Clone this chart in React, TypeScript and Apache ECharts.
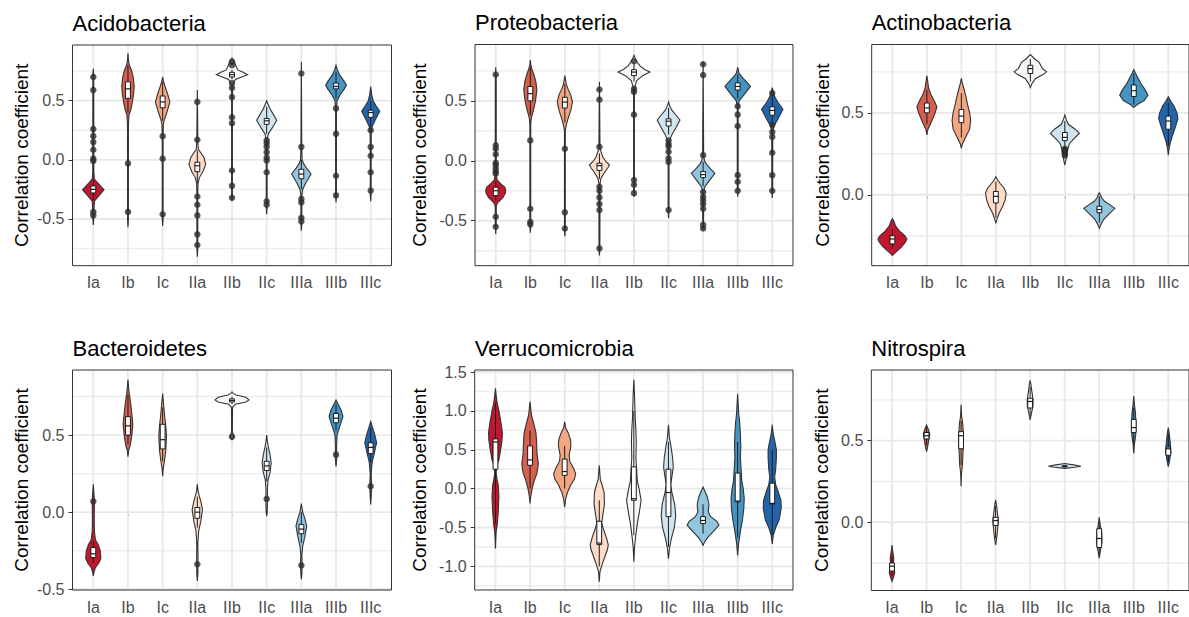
import React, { useEffect, useRef } from "react";
import * as echarts from "echarts";

const FONT = "'Liberation Sans', Arial, Helvetica, sans-serif";

const categories = ["Ia", "Ib", "Ic", "IIa", "IIb", "IIc", "IIIa", "IIIb", "IIIc"];
const palette = ["#C2162E", "#D6604D", "#F4A582", "#FDDBC7", "#F7F7F7", "#D1E5F0", "#92C5DE", "#4393C3", "#2166AC"];
const panelTitles = ["Acidobacteria", "Proteobacteria", "Actinobacteria", "Bacteroidetes", "Verrucomicrobia", "Nitrospira"];
const yTitle = "Correlation coefficient";

// ---------- Acidobacteria ----------
const acidoRange = [-0.895, 0.971];
const acidoMajor = [-0.5, 0, 0.5];
const acidoMinor = [-0.75, -0.25, 0.25, 0.75];
const acidoViolins = [
  [[-0.55, 0], [-0.5, 0.012], [-0.42, 0.02], [-0.35, 0.03], [-0.3, 0.17], [-0.252, 0.31], [-0.2, 0.14], [-0.16, 0.03], [-0.1, 0.015], [0.3, 0.014], [0.72, 0.012], [0.77, 0]],
  [[-0.57, 0], [-0.5, 0.012], [0.3, 0.014], [0.38, 0.03], [0.42, 0.08], [0.48, 0.12], [0.55, 0.16], [0.62, 0.18], [0.7, 0.15], [0.76, 0.1], [0.8, 0.04], [0.84, 0.015], [0.9, 0]],
  [[-0.56, 0], [-0.5, 0.012], [0.2, 0.012], [0.3, 0.02], [0.34, 0.05], [0.4, 0.12], [0.49, 0.21], [0.56, 0.14], [0.62, 0.07], [0.66, 0.03], [0.7, 0]],
  [[-0.82, 0], [-0.75, 0.012], [-0.3, 0.012], [-0.2, 0.02], [-0.15, 0.06], [-0.1, 0.16], [-0.04, 0.24], [0.02, 0.19], [0.06, 0.1], [0.09, 0.03], [0.15, 0.015], [0.59, 0]],
  [[-0.35, 0], [-0.3, 0.012], [0.5, 0.012], [0.6, 0.02], [0.65, 0.04], [0.68, 0.1], [0.7, 0.28], [0.72, 0.45], [0.74, 0.32], [0.76, 0.17], [0.79, 0.12], [0.82, 0.08], [0.84, 0.04], [0.86, 0]],
  [[-0.46, 0], [-0.4, 0.012], [0.1, 0.012], [0.18, 0.02], [0.22, 0.05], [0.27, 0.16], [0.335, 0.29], [0.38, 0.2], [0.43, 0.1], [0.47, 0.04], [0.5, 0]],
  [[-0.6, 0], [-0.55, 0.012], [-0.3, 0.015], [-0.25, 0.04], [-0.2, 0.12], [-0.12, 0.28], [-0.07, 0.15], [-0.03, 0.06], [0.0, 0.025], [0.1, 0.012], [0.83, 0]],
  [[-0.36, 0], [-0.3, 0.012], [0.4, 0.012], [0.5, 0.03], [0.55, 0.12], [0.6, 0.24], [0.633, 0.3], [0.67, 0.22], [0.72, 0.1], [0.76, 0.04], [0.8, 0]],
  [[-0.35, 0], [-0.3, 0.012], [0.22, 0.014], [0.28, 0.04], [0.33, 0.12], [0.41, 0.26], [0.46, 0.15], [0.5, 0.07], [0.55, 0.03], [0.62, 0]],
];
const acidoBoxes = [
  [-0.34, -0.28, -0.25, -0.22, -0.17],
  [0.4, 0.52, 0.6, 0.66, 0.8],
  [0.33, 0.44, 0.49, 0.54, 0.66],
  [-0.2, -0.1, -0.05, -0.02, 0.08],
  [0.68, 0.7, 0.72, 0.74, 0.76],
  [0.22, 0.3, 0.33, 0.35, 0.45],
  [-0.25, -0.16, -0.12, -0.08, 0.0],
  [0.52, 0.6, 0.62, 0.65, 0.74],
  [0.28, 0.36, 0.4, 0.42, 0.5],
];
const acidoOutliers = [
  [0.7, 0.59, 0.26, 0.2, 0.15, 0.085, 0.01, -0.01, -0.44, -0.47],
  [-0.03, -0.44],
  [0.2, 0.01, -0.46],
  [0.49, 0.17, -0.31, -0.38, -0.47, -0.63, -0.72],
  [0.83, 0.8, 0.65, 0.61, 0.53, 0.36, 0.31, -0.09, -0.22, -0.32],
  [0.165, 0.14, 0.11, 0.065, 0.02, -0.005, -0.105, -0.35, -0.38],
  [0.73, 0.11, -0.33, -0.36, -0.49, -0.52],
  [0.435, 0.22, -0.134, -0.3],
  [0.25, 0.11, 0.035, -0.105, -0.26],
];

// ---------- Proteobacteria ----------
const proteoRange = [-0.875, 0.97];
const proteoMajor = [-0.5, 0, 0.5];
const proteoMinor = [-0.75, -0.25, 0.25, 0.75];
const proteoViolins = [
  [[-0.61, 0], [-0.55, 0.012], [-0.38, 0.015], [-0.35, 0.05], [-0.31, 0.2], [-0.27, 0.28], [-0.245, 0.29], [-0.22, 0.26], [-0.19, 0.14], [-0.16, 0.04], [-0.1, 0.015], [0.7, 0.012], [0.78, 0]],
  [[-0.6, 0], [-0.55, 0.012], [0.3, 0.012], [0.36, 0.03], [0.42, 0.09], [0.5, 0.15], [0.59, 0.19], [0.66, 0.16], [0.72, 0.1], [0.77, 0.04], [0.8, 0.015], [0.84, 0]],
  [[-0.63, 0], [-0.58, 0.012], [0.25, 0.012], [0.3, 0.04], [0.36, 0.1], [0.42, 0.17], [0.49, 0.22], [0.55, 0.17], [0.6, 0.09], [0.64, 0.04], [0.71, 0]],
  [[-0.79, 0], [-0.74, 0.012], [-0.2, 0.015], [-0.15, 0.04], [-0.1, 0.14], [-0.06, 0.24], [-0.036, 0.29], [-0.01, 0.2], [0.03, 0.1], [0.08, 0.04], [0.12, 0.015], [0.66, 0]],
  [[-0.3, 0], [-0.26, 0.012], [0.55, 0.012], [0.62, 0.03], [0.67, 0.08], [0.71, 0.25], [0.74, 0.46], [0.76, 0.32], [0.79, 0.18], [0.82, 0.1], [0.85, 0.04], [0.88, 0]],
  [[-0.48, 0], [-0.42, 0.012], [0.1, 0.012], [0.17, 0.03], [0.22, 0.1], [0.28, 0.22], [0.34, 0.33], [0.38, 0.22], [0.42, 0.1], [0.46, 0.03], [0.49, 0]],
  [[-0.58, 0], [-0.53, 0.012], [-0.27, 0.015], [-0.22, 0.04], [-0.17, 0.17], [-0.105, 0.34], [-0.07, 0.22], [-0.03, 0.1], [0.0, 0.04], [0.05, 0.015], [0.825, 0]],
  [[-0.3, 0], [-0.25, 0.012], [0.45, 0.012], [0.5, 0.04], [0.55, 0.18], [0.62, 0.37], [0.66, 0.25], [0.7, 0.12], [0.73, 0.04], [0.78, 0]],
  [[-0.31, 0], [-0.26, 0.012], [0.25, 0.015], [0.29, 0.05], [0.35, 0.17], [0.43, 0.31], [0.48, 0.18], [0.53, 0.08], [0.57, 0.03], [0.61, 0]],
];
const proteoBoxes = [
  [-0.33, -0.29, -0.25, -0.22, -0.17],
  [0.38, 0.5, 0.56, 0.62, 0.78],
  [0.32, 0.44, 0.49, 0.53, 0.64],
  [-0.15, -0.08, -0.04, -0.02, 0.06],
  [0.66, 0.71, 0.74, 0.76, 0.82],
  [0.22, 0.29, 0.33, 0.35, 0.44],
  [-0.21, -0.14, -0.115, -0.09, -0.01],
  [0.52, 0.59, 0.62, 0.65, 0.72],
  [0.3, 0.38, 0.42, 0.45, 0.55],
];
const proteoOutliers = [
  [0.72, 0.13, 0.1, 0.055, -0.017, -0.036, -0.064, -0.09, -0.105, -0.467, -0.55],
  [0.17, -0.4, -0.51, -0.53],
  [0.1, -0.43, -0.565],
  [0.595, 0.51, 0.117, -0.217, -0.25, -0.305, -0.36, -0.41, -0.73],
  [0.83, 0.6, 0.575, 0.385, -0.16, -0.2, -0.27],
  [0.17, 0.14, 0.12, 0.075, 0.02, -0.01, -0.41],
  [0.805, 0.715, 0.047, -0.26, -0.3, -0.33, -0.36, -0.4, -0.535, -0.565],
  [0.455, 0.385, 0.29, -0.12, -0.175, -0.25],
  [0.565, 0.3, 0.24, 0.2, 0.067, -0.12, -0.25],
];

// ---------- Actinobacteria ----------
const actinoRange = [-0.433, 0.917];
const actinoMajor = [0, 0.5];
const actinoMinor = [-0.25, 0.25, 0.75];
const actinoViolins = [
  [[-0.37, 0], [-0.35, 0.1], [-0.32, 0.26], [-0.29, 0.38], [-0.27, 0.42], [-0.25, 0.36], [-0.22, 0.2], [-0.19, 0.09], [-0.16, 0.04], [-0.145, 0]],
  [[0.365, 0], [0.4, 0.03], [0.44, 0.12], [0.5, 0.24], [0.537, 0.29], [0.57, 0.22], [0.61, 0.12], [0.65, 0.05], [0.7, 0.02], [0.725, 0]],
  [[0.283, 0], [0.31, 0.03], [0.35, 0.12], [0.4, 0.24], [0.455, 0.27], [0.5, 0.24], [0.55, 0.18], [0.6, 0.13], [0.65, 0.07], [0.68, 0.03], [0.71, 0]],
  [[-0.175, 0], [-0.15, 0.03], [-0.11, 0.1], [-0.07, 0.2], [-0.03, 0.27], [0.01, 0.3], [0.04, 0.24], [0.07, 0.12], [0.09, 0.05], [0.11, 0]],
  [[0.654, 0], [0.68, 0.05], [0.71, 0.15], [0.735, 0.38], [0.75, 0.47], [0.77, 0.35], [0.79, 0.3], [0.81, 0.25], [0.83, 0.12], [0.856, 0]],
  [[0.18, 0], [0.21, 0.03], [0.25, 0.06], [0.28, 0.09], [0.31, 0.13], [0.34, 0.25], [0.374, 0.42], [0.4, 0.3], [0.43, 0.1], [0.46, 0.04], [0.486, 0]],
  [[-0.205, 0], [-0.18, 0.05], [-0.15, 0.13], [-0.12, 0.27], [-0.083, 0.45], [-0.06, 0.3], [-0.04, 0.15], [-0.02, 0.07], [0.0, 0.03], [0.012, 0]],
  [[0.533, 0], [0.55, 0.1], [0.575, 0.3], [0.608, 0.41], [0.64, 0.33], [0.68, 0.2], [0.72, 0.1], [0.745, 0.04], [0.764, 0]],
  [[0.242, 0], [0.28, 0.02], [0.32, 0.06], [0.36, 0.12], [0.41, 0.2], [0.465, 0.28], [0.5, 0.25], [0.54, 0.17], [0.57, 0.07], [0.598, 0]],
];
const actinoBoxes = [
  [-0.33, -0.3, -0.27, -0.25, -0.21],
  [0.43, 0.5, 0.53, 0.56, 0.64],
  [0.35, 0.44, 0.48, 0.52, 0.62],
  [-0.14, -0.05, -0.01, 0.02, 0.08],
  [0.69, 0.74, 0.77, 0.79, 0.83],
  [0.29, 0.33, 0.35, 0.38, 0.45],
  [-0.17, -0.11, -0.09, -0.07, -0.01],
  [0.55, 0.6, 0.635, 0.67, 0.74],
  [0.3, 0.4, 0.45, 0.48, 0.56],
];
const actinoOutliers = [[], [], [], [], [], [0.28, 0.275, 0.27, 0.265, 0.26, 0.25, 0.24], [], [], []];

// ---------- Bacteroidetes ----------
const bacteRange = [-0.505, 0.922];
const bacteMajor = [-0.5, 0, 0.5];
const bacteMinor = [-0.25, 0.25, 0.75];
const bacteViolins = [
  [[-0.414, 0], [-0.39, 0.02], [-0.36, 0.06], [-0.33, 0.16], [-0.3, 0.22], [-0.25, 0.2], [-0.21, 0.14], [-0.18, 0.06], [-0.12, 0.03], [-0.05, 0.025], [0.05, 0.03], [0.1, 0.025], [0.18, 0]],
  [[0.36, 0], [0.4, 0.02], [0.44, 0.07], [0.5, 0.11], [0.57, 0.14], [0.64, 0.11], [0.7, 0.08], [0.75, 0.05], [0.78, 0.03], [0.86, 0]],
  [[0.233, 0], [0.28, 0.015], [0.33, 0.05], [0.4, 0.09], [0.49, 0.11], [0.56, 0.09], [0.62, 0.06], [0.68, 0.035], [0.72, 0.02], [0.77, 0]],
  [[-0.446, 0], [-0.4, 0.015], [-0.3, 0.02], [-0.2, 0.015], [-0.12, 0.04], [-0.06, 0.1], [0.017, 0.15], [0.07, 0.1], [0.11, 0.05], [0.14, 0.02], [0.18, 0]],
  [[0.47, 0], [0.48, 0.03], [0.49, 0.06], [0.5, 0.03], [0.52, 0.012], [0.68, 0.015], [0.7, 0.1], [0.715, 0.4], [0.728, 0.49], [0.745, 0.4], [0.76, 0.12], [0.77, 0.03], [0.78, 0]],
  [[-0.026, 0], [0.0, 0.015], [0.05, 0.02], [0.1, 0.025], [0.15, 0.02], [0.21, 0.04], [0.26, 0.1], [0.32, 0.13], [0.37, 0.1], [0.42, 0.05], [0.46, 0.02], [0.5, 0]],
  [[-0.435, 0], [-0.4, 0.015], [-0.34, 0.025], [-0.28, 0.015], [-0.22, 0.04], [-0.16, 0.1], [-0.09, 0.155], [-0.04, 0.1], [0.0, 0.04], [0.056, 0]],
  [[0.297, 0], [0.33, 0.015], [0.37, 0.025], [0.42, 0.015], [0.5, 0.03], [0.55, 0.1], [0.62, 0.2], [0.66, 0.15], [0.7, 0.06], [0.728, 0]],
  [[0.05, 0], [0.1, 0.015], [0.17, 0.025], [0.25, 0.015], [0.32, 0.04], [0.38, 0.1], [0.45, 0.17], [0.5, 0.12], [0.55, 0.05], [0.588, 0]],
];
const bacteBoxes = [
  [-0.33, -0.295, -0.27, -0.23, -0.19],
  [0.44, 0.5, 0.56, 0.62, 0.76],
  [0.33, 0.41, 0.47, 0.57, 0.68],
  [-0.1, -0.04, 0.0, 0.03, 0.1],
  [0.7, 0.715, 0.725, 0.735, 0.75],
  [0.2, 0.27, 0.3, 0.33, 0.42],
  [-0.2, -0.14, -0.11, -0.08, 0.0],
  [0.53, 0.58, 0.61, 0.64, 0.7],
  [0.32, 0.38, 0.42, 0.45, 0.55],
];
const bacteOutliers = [[0.07], [], [], [-0.338], [0.49], [0.086], [-0.345], [0.373], [0.168]];

// ---------- Verrucomicrobia ----------
const verruRange = [-1.304, 1.526];
const verruMajor = [-1, -0.5, 0, 0.5, 1, 1.5];
const verruMinor = [-1.25, -0.75, -0.25, 0.25, 0.75, 1.25];
const verruViolins = [
  [[-0.77, 0], [-0.55, 0.02], [-0.47, 0.05], [-0.3, 0.08], [-0.1, 0.1], [0.05, 0.08], [0.11, 0.05], [0.2, 0.02], [0.3, 0.04], [0.37, 0.1], [0.5, 0.15], [0.62, 0.19], [0.72, 0.2], [0.85, 0.16], [1.0, 0.1], [1.1, 0.05], [1.2, 0.02], [1.29, 0]],
  [[-0.19, 0], [-0.1, 0.02], [0.0, 0.06], [0.1, 0.12], [0.2, 0.2], [0.32, 0.24], [0.45, 0.2], [0.6, 0.19], [0.72, 0.17], [0.85, 0.1], [0.95, 0.04], [1.12, 0]],
  [[-0.24, 0], [-0.13, 0.03], [-0.05, 0.08], [0.05, 0.18], [0.12, 0.28], [0.19, 0.32], [0.27, 0.25], [0.35, 0.15], [0.43, 0.13], [0.55, 0.18], [0.63, 0.17], [0.72, 0.1], [0.78, 0.03], [0.86, 0]],
  [[-1.2, 0], [-1.07, 0.02], [-0.98, 0.08], [-0.88, 0.16], [-0.78, 0.24], [-0.72, 0.26], [-0.62, 0.2], [-0.52, 0.12], [-0.44, 0.07], [-0.35, 0.1], [-0.2, 0.15], [-0.05, 0.14], [0.05, 0.08], [0.12, 0.03], [0.3, 0]],
  [[-0.94, 0], [-0.75, 0.02], [-0.62, 0.05], [-0.45, 0.1], [-0.3, 0.16], [-0.15, 0.21], [0.0, 0.15], [0.1, 0.1], [0.25, 0.08], [0.4, 0.06], [0.6, 0.07], [0.75, 0.06], [0.9, 0.04], [1.05, 0.03], [1.2, 0.02], [1.4, 0]],
  [[-0.9, 0], [-0.77, 0.03], [-0.65, 0.08], [-0.5, 0.17], [-0.35, 0.21], [-0.2, 0.18], [-0.05, 0.1], [0.05, 0.06], [0.15, 0.1], [0.28, 0.14], [0.4, 0.12], [0.55, 0.07], [0.65, 0.03], [0.82, 0]],
  [[-0.73, 0], [-0.68, 0.05], [-0.62, 0.15], [-0.55, 0.3], [-0.47, 0.46], [-0.42, 0.4], [-0.36, 0.22], [-0.3, 0.15], [-0.2, 0.17], [-0.1, 0.12], [-0.03, 0.05], [0.02, 0]],
  [[-0.86, 0], [-0.7, 0.03], [-0.55, 0.08], [-0.4, 0.14], [-0.25, 0.18], [-0.12, 0.19], [0.0, 0.16], [0.1, 0.12], [0.25, 0.1], [0.4, 0.08], [0.55, 0.09], [0.7, 0.08], [0.85, 0.06], [0.97, 0.03], [1.22, 0]],
  [[-0.71, 0], [-0.6, 0.03], [-0.5, 0.1], [-0.4, 0.2], [-0.25, 0.26], [-0.15, 0.25], [-0.05, 0.18], [0.05, 0.1], [0.15, 0.07], [0.25, 0.1], [0.4, 0.12], [0.5, 0.12], [0.6, 0.08], [0.7, 0.03], [0.82, 0]],
];
const verruBoxes = [
  [-0.45, 0.25, 0.6, 0.64, 1.1],
  [0.0, 0.3, 0.37, 0.55, 0.75],
  [0.0, 0.17, 0.22, 0.38, 0.55],
  [-1.0, -0.72, -0.7, -0.42, -0.15],
  [-0.6, -0.15, -0.13, 0.28, 1.0],
  [-0.75, -0.36, -0.05, 0.25, 0.6],
  [-0.58, -0.45, -0.41, -0.36, -0.2],
  [-0.62, -0.17, -0.16, 0.2, 0.6],
  [-0.6, -0.2, -0.19, 0.07, 0.5],
];
const verruOutliers = [[], [], [], [], [], [], [], [], []];

// ---------- Nitrospira ----------
const nitroRange = [-0.419, 0.933];
const nitroMajor = [0, 0.5];
const nitroMinor = [-0.25, 0.25, 0.75];
const nitroViolins = [
  [[-0.363, 0], [-0.34, 0.04], [-0.31, 0.08], [-0.28, 0.06], [-0.25, 0.04], [-0.22, 0.05], [-0.19, 0.03], [-0.16, 0.01], [-0.14, 0]],
  [[0.433, 0], [0.46, 0.03], [0.5, 0.06], [0.54, 0.095], [0.57, 0.05], [0.596, 0]],
  [[0.22, 0], [0.3, 0.012], [0.35, 0.04], [0.45, 0.06], [0.53, 0.07], [0.6, 0.05], [0.65, 0.015], [0.72, 0]],
  [[-0.14, 0], [-0.1, 0.03], [-0.04, 0.06], [0.01, 0.08], [0.06, 0.05], [0.1, 0.03], [0.137, 0]],
  [[0.627, 0], [0.67, 0.04], [0.71, 0.08], [0.75, 0.085], [0.8, 0.05], [0.84, 0.025], [0.87, 0]],
  [[0.33, 0], [0.337, 0.3], [0.343, 0.47], [0.35, 0.3], [0.36, 0]],
  [[-0.22, 0], [-0.17, 0.04], [-0.12, 0.08], [-0.06, 0.07], [-0.02, 0.03], [0.03, 0]],
  [[0.422, 0], [0.48, 0.02], [0.53, 0.055], [0.6, 0.065], [0.67, 0.05], [0.72, 0.02], [0.773, 0]],
  [[0.34, 0], [0.38, 0.04], [0.43, 0.075], [0.48, 0.06], [0.54, 0.03], [0.58, 0]],
];
const nitroBoxes = [
  [-0.33, -0.3, -0.27, -0.25, -0.21],
  [0.47, 0.51, 0.53, 0.55, 0.58],
  [0.35, 0.45, 0.53, 0.555, 0.62],
  [-0.1, -0.02, 0.01, 0.03, 0.1],
  [0.65, 0.7, 0.74, 0.76, 0.83],
  [0.335, 0.34, 0.343, 0.346, 0.35],
  [-0.2, -0.155, -0.1, -0.04, 0.0],
  [0.48, 0.55, 0.58, 0.63, 0.7],
  [0.37, 0.41, 0.45, 0.46, 0.54],
];
const nitroOutliers = [[], [], [], [], [], [], [], [], []];

const panels = [
  { title: panelTitles[0], range: acidoRange, major: acidoMajor, minor: acidoMinor, violins: acidoViolins, boxes: acidoBoxes, outliers: acidoOutliers },
  { title: panelTitles[1], range: proteoRange, major: proteoMajor, minor: proteoMinor, violins: proteoViolins, boxes: proteoBoxes, outliers: proteoOutliers },
  { title: panelTitles[2], range: actinoRange, major: actinoMajor, minor: actinoMinor, violins: actinoViolins, boxes: actinoBoxes, outliers: actinoOutliers },
  { title: panelTitles[3], range: bacteRange, major: bacteMajor, minor: bacteMinor, violins: bacteViolins, boxes: bacteBoxes, outliers: bacteOutliers },
  { title: panelTitles[4], range: verruRange, major: verruMajor, minor: verruMinor, violins: verruViolins, boxes: verruBoxes, outliers: verruOutliers },
  { title: panelTitles[5], range: nitroRange, major: nitroMajor, minor: nitroMinor, violins: nitroViolins, boxes: nitroBoxes, outliers: nitroOutliers },
];

// layout (pixels)
const layouts = [
  { left: 72.5, top: 45, width: 319, height: 220.7, nameGap: 42 },
  { left: 475, top: 44.5, width: 318, height: 221.2, nameGap: 46 },
  { left: 871.7, top: 44.5, width: 322, height: 221.2, nameGap: 40 },
  { left: 72.5, top: 370, width: 319, height: 220, nameGap: 42 },
  { left: 474.7, top: 370, width: 318.3, height: 220, nameGap: 46 },
  { left: 871.3, top: 370, width: 322.4, height: 220.5, nameGap: 40 },
];

const catTicks = categories.map((_, i) => i + 1);
const STROKE = "#333333";
const BOX_HALF = 0.07;

function buildOption() {
  const series: any[] = [];
  const graphics: any[] = [];
  panels.forEach((p, k) => {
    const L = layouts[k];
    // grid lines via graphic-free custom series
    const gridData = [
      ...p.major.map((v) => [1, v, 0]),
      ...p.minor.map((v) => [1, v, 1]),
      ...catTicks.map((c) => [c, p.range[0], 2]),
    ];
    series.push({
      type: "custom",
      xAxisIndex: k,
      yAxisIndex: k,
      silent: true,
      z: 1,
      clip: false,
      data: gridData,
      renderItem: (params: any, api: any) => {
        const t = api.value(2);
        if (t === 2) {
          const px = api.coord([api.value(0), p.range[0]])[0];
          return {
            type: "line",
            shape: { x1: px, y1: L.top, x2: px, y2: L.top + L.height },
            style: { stroke: "#E8E8E8", lineWidth: 1.8 },
          };
        }
        const py = api.coord([1, api.value(1)])[1];
        return {
          type: "line",
          shape: { x1: L.left, y1: py, x2: L.left + L.width, y2: py },
          style: { stroke: t === 1 ? "#EDEDED" : "#E8E8E8", lineWidth: t === 1 ? 1.4 : 1.8 },
        };
      },
    });
    series.push({
      type: "custom",
      xAxisIndex: k,
      yAxisIndex: k,
      silent: true,
      z: 2,
      data: catTicks.map((c, i) => [c, p.boxes[i][2]]),
      renderItem: (params: any, api: any) => {
        const i = params.dataIndex;
        const x = api.value(0);
        const prof = p.violins[i];
        const right = prof.map(([y, w]: number[]) => api.coord([x + w, y]));
        const left = prof.slice().reverse().map(([y, w]: number[]) => api.coord([x - w, y]));
        return {
          type: "polygon",
          shape: { points: right.concat(left) },
          style: { fill: palette[i], stroke: STROKE, lineWidth: 1.1 },
        };
      },
    });
    series.push({
      type: "custom",
      xAxisIndex: k,
      yAxisIndex: k,
      silent: true,
      z: 3,
      data: catTicks.map((c, i) => [c, p.boxes[i][2]]),
      renderItem: (params: any, api: any) => {
        const i = params.dataIndex;
        const x = api.value(0);
        const [lo, q1, md, q3, hi] = p.boxes[i];
        const c = (xx: number, yy: number) => api.coord([xx, yy]);
        const tl = c(x - BOX_HALF, q3);
        const br = c(x + BOX_HALF, q1);
        const a = c(x, lo), b = c(x, q1), d = c(x, q3), e = c(x, hi);
        const ml = c(x - BOX_HALF, md), mr = c(x + BOX_HALF, md);
        const st = { stroke: "#1a1a1a", lineWidth: 1 };
        return {
          type: "group",
          children: [
            { type: "line", shape: { x1: a[0], y1: a[1], x2: b[0], y2: b[1] }, style: st },
            { type: "line", shape: { x1: d[0], y1: d[1], x2: e[0], y2: e[1] }, style: st },
            { type: "rect", shape: { x: tl[0], y: tl[1], width: br[0] - tl[0], height: Math.max(br[1] - tl[1], 1) }, style: { fill: "#ffffff", stroke: "#1a1a1a", lineWidth: 1 } },
            { type: "line", shape: { x1: ml[0], y1: ml[1], x2: mr[0], y2: mr[1] }, style: { stroke: "#1a1a1a", lineWidth: 1.2 } },
          ],
        };
      },
    });
    const pts: number[][] = [];
    p.outliers.forEach((arr, i) => arr.forEach((v) => pts.push([i + 1, v])));
    series.push({
      type: "scatter",
      xAxisIndex: k,
      yAxisIndex: k,
      silent: true,
      z: 4,
      symbol: "circle",
      symbolSize: 6.5,
      itemStyle: { color: "#2e2e2e" },
      data: pts,
    });
  });

  return {
    animation: false,
    backgroundColor: "#ffffff",
    textStyle: { fontFamily: FONT },
    title: panels.map((p, k) => ({
      text: p.title,
      left: layouts[k].left,
      top: layouts[k].top - 33,
      padding: 0,
      textStyle: { fontSize: 22, fontWeight: "normal", color: "#000000", fontFamily: FONT },
    })),
    grid: layouts.map((l) => ({
      left: l.left,
      top: l.top,
      width: l.width,
      height: l.height,
      show: true,
      backgroundColor: "transparent",
      borderColor: STROKE,
      borderWidth: 1,
      z: 5,
    })),
    xAxis: panels.map((p, k) => ({
      type: "value",
      gridIndex: k,
      min: 0.4,
      max: 9.6,
      axisLine: { show: false },
      splitLine: { show: false },
      axisTick: { show: true, customValues: catTicks, length: 4, lineStyle: { color: STROKE } },
      axisLabel: {
        customValues: catTicks,
        formatter: (v: number) => categories[Math.round(v) - 1] || "",
        color: "#4D4D4D",
        fontSize: 16,
        margin: 9,
        fontFamily: FONT,
      },
    })),
    yAxis: panels.map((p, k) => ({
      type: "value",
      gridIndex: k,
      min: p.range[0],
      max: p.range[1],
      axisLine: { show: false },
      splitLine: { show: false },
      axisTick: { show: true, customValues: p.major, length: 4, lineStyle: { color: STROKE } },
      axisLabel: {
        customValues: p.major,
        formatter: (v: number) => (Math.abs(v) < 1e-9 ? "0.0" : v.toFixed(1)),
        color: "#4D4D4D",
        fontSize: 16,
        margin: 8,
        fontFamily: FONT,
      },
      name: yTitle,
      nameLocation: "middle",
      nameRotate: 90,
      nameGap: layouts[k].nameGap,
      nameTextStyle: { fontSize: 19, color: "#000000", fontFamily: FONT },
    })),
    series,
  };
}

export default function App() {
  const ref = useRef<HTMLDivElement>(null);
  useEffect(() => {
    if (!ref.current) return;
    const chart = echarts.init(ref.current, undefined, { renderer: "svg" });
    chart.setOption(buildOption() as any);
    return () => chart.dispose();
  }, []);
  return (
    <div
      ref={ref}
      style={{ position: "fixed", left: 0, top: 0, width: 1189, height: 617, background: "#fff" }}
    />
  );
}
